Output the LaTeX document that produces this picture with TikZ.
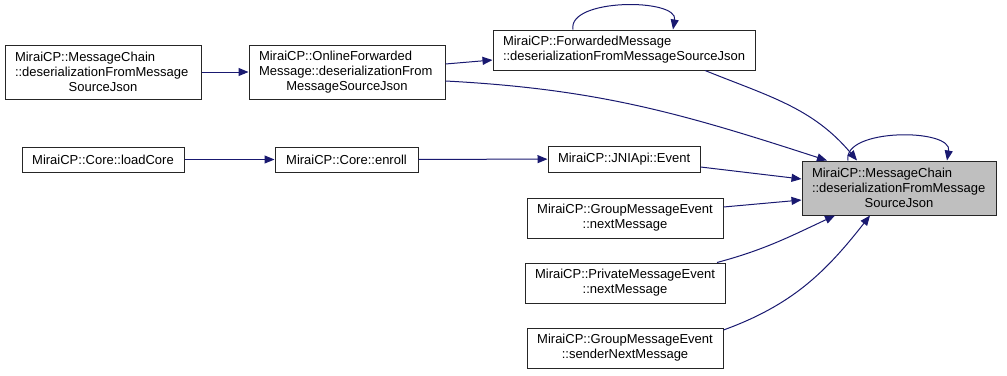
\documentclass[tikz,border=0pt]{standalone}
\usepackage{fontspec}
\setmainfont{Liberation Sans}
\usetikzlibrary{arrows.meta}

\definecolor{edgeblue}{HTML}{191970}
\definecolor{curgray}{HTML}{BFBFBF}
% left-aligned line inside a centred node
\newcommand{\lft}[1]{\makebox[\hsize][l]{#1}}

\begin{document}
\begin{tikzpicture}[x=1pt,y=-1pt,
  fn/.style={draw=black!85,line width=1pt,fill=white,inner xsep=10pt,inner ysep=2pt,
    align=center,font=\fontsize{13}{15}\selectfont},
  call/.style={edgeblue,line width=1pt,-{Triangle[length=10pt,width=8pt]}}]
  \useasboundingbox (0,0) rectangle (1007,375);

  \node[fn,text width=176pt,minimum height=54pt] (chain)      at (103,72)    {\lft{MiraiCP::MessageChain}\\\lft{::deserializationFromMessage}\\SourceJson};
  \node[fn,text width=176pt,minimum height=54pt] (onlinefwd)  at (347,72)    {\lft{MiraiCP::OnlineForwarded}\\\lft{Message::deserializationFrom}\\MessageSourceJson};
  \node[fn,text width=242pt,minimum height=40pt] (fwd)        at (624,50)    {\lft{MiraiCP::ForwardedMessage}\\\lft{::deserializationFromMessageSourceJson}};
  \node[fn,text width=174pt,minimum height=54pt,fill=curgray] (target) at (899,188) {\lft{MiraiCP::MessageChain}\\\lft{::deserializationFromMessage}\\SourceJson};
  \node[fn,text width=142pt,minimum height=25pt] (loadcore)   at (103,159.5) {MiraiCP::Core::loadCore};
  \node[fn,text width=123pt,minimum height=25pt] (enroll)     at (346.5,159.5) {MiraiCP::Core::enroll};
  \node[fn,text width=132pt,minimum height=26pt] (jni)        at (624,159)   {MiraiCP::JNIApi::Event};
  \node[fn,text width=176pt,minimum height=40pt] (grpnext)    at (625,218)   {MiraiCP::GroupMessageEvent\\::nextMessage};
  \node[fn,text width=180pt,minimum height=40pt] (privnext)   at (625,283)   {MiraiCP::PrivateMessageEvent\\::nextMessage};
  \node[fn,text width=176pt,minimum height=40pt] (sendernext) at (625,348)   {MiraiCP::GroupMessageEvent\\::senderNextMessage};

  \path[call]
  (chain) edge (onlinefwd)
  ([yshift=8pt]onlinefwd.east) edge ([yshift=-10pt]fwd.west)
  ([yshift=-9pt]onlinefwd.east) edge[out=-3,in=162] ([xshift=-72pt]target.north)
  ([xshift=81pt]fwd.south) edge[out=-22,in=130] ([xshift=-42pt]target.north)
  ([xshift=-51pt]fwd.north) edge[out=100,in=80,distance=32pt] ([xshift=49pt]fwd.north)
  ([xshift=-51pt]target.north) edge[out=100,in=80,distance=33pt] ([xshift=48pt]target.north)
  (loadcore) edge (enroll)
  (enroll) edge (jni)
  ([yshift=-8pt]jni.east) edge ([yshift=9pt]target.west)
  ([yshift=11pt]grpnext.east) edge ([yshift=-12pt]target.west)
  ([xshift=92pt]privnext.north) edge[out=15,in=-155] ([xshift=-64pt]target.south)
  ([yshift=18pt]sendernext.east) edge[out=20,in=-128] ([xshift=-29pt]target.south);
\end{tikzpicture}
\end{document}
